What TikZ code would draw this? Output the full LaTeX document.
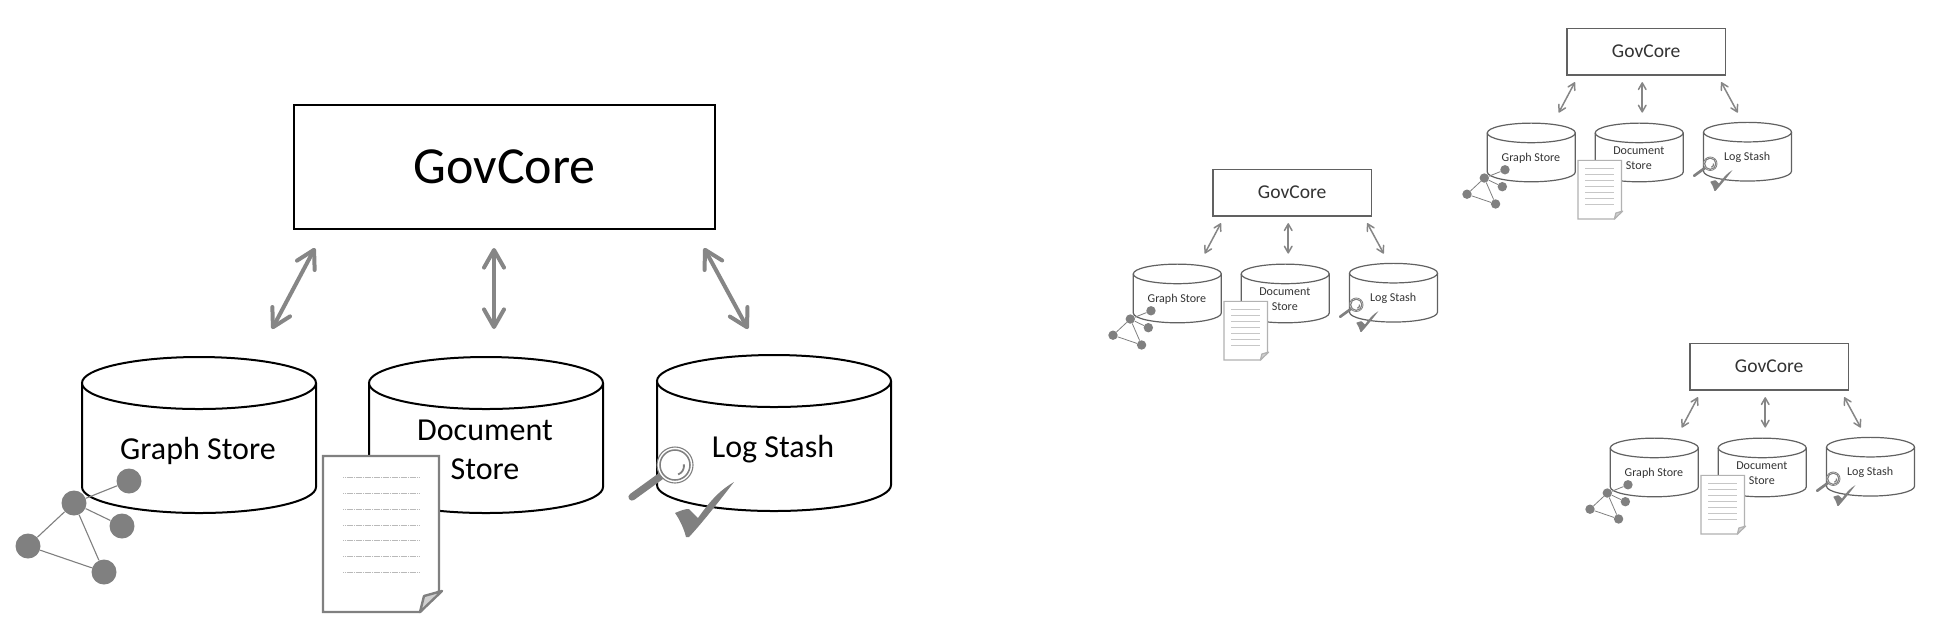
\documentclass[tikz,border=0pt]{standalone}
\usepackage{fontspec}
\setmainfont{Carlito}
\usetikzlibrary{arrows.meta,calc}
\definecolor{nodegray}{HTML}{808080}
\definecolor{foldgray}{HTML}{D0D0D0}
\tikzset{
  ink/.style={draw=inkc,line width=\inkw pt},
  cyl/.style={ink,fill=white},
  txt/.style={transform shape,text=inkt,align=center,inner sep=0pt,font=\fontsize{16pt}{20pt}\selectfont},
  core/.style={transform shape,draw=inkc,line width=\inkw pt,fill=white,minimum width=210.5pt,minimum height=62pt,inner sep=0pt,text=inkt,font=\fontsize{26pt}{30pt}\selectfont},
  barb/.tip={Straight Barb[round,length=0pt 4.4 0,width=0pt 5 0]},
  link/.style={draw=nodegray!95,line width=\arrw pt,barb-barb},
  dot/.style={transform shape,circle,fill=nodegray,draw=none,minimum size=12.5pt,inner sep=0pt},
  edge/.style={draw=nodegray,line width=\edgew pt},
  sheet/.style={draw=sheetc,line width=\sheetw pt,fill=white,line join=miter},
  rule/.style={draw=nodegray!55,line width=.5pt,dash pattern=on .7pt off .2pt},
  lens/.style={draw=nodegray,line width=\edgew pt}
}
% #1 prefix, #2 x, #3 y, #4 scale, #5 ink stroke width, #6 arrow width, #7 thin width, #8 sheet width
\newcommand{\govgroup}[8]{%
\def\inkw{#5}\def\arrw{#6}\def\edgew{#7}\def\sheetw{#8}%
\begin{scope}[shift={(#2,#3)},scale=#4,shift={(-294,-104)}]
  \node[core] (#1core) at (504.5,167) {GovCore};
  % arrows
  \coordinate (#1a1) at (315,248); \coordinate (#1b1) at (272,329);
  \coordinate (#1a2) at (494,248); \coordinate (#1b2) at (494,329);
  \coordinate (#1a3) at (704,248); \coordinate (#1b3) at (748,329);
  \draw[link] (#1a1) -- (#1b1);
  \draw[link] (#1a2) -- (#1b2);
  \draw[link] (#1a3) -- (#1b3);
  % cylinders
  \foreach \cx/\cy in {199/383,486/383,774/381}{
    \path[cyl] (\cx-117,\cy) -- (\cx-117,\cy+104) arc[start angle=180,end angle=0,x radius=117,y radius=26] -- (\cx+117,\cy);
    \path[cyl] (\cx,\cy) ellipse[x radius=117,y radius=26];
  }
  \node[txt] (#1gs) at (198,451) {Graph Store};
  \node[txt] (#1ds) at (485,449.5) {Document\\[-.4pt]Store};
  \node[txt] (#1ls) at (773,449) {Log Stash};
  % graph
  \node[dot] (#1n1) at (129,481) {};
  \node[dot] (#1n2) at (74,503) {};
  \node[dot] (#1n3) at (122,526) {};
  \node[dot] (#1n4) at (28,546) {};
  \node[dot] (#1n5) at (104,572) {};
  \draw[edge] (#1n2)--(#1n1) (#1n2)--(#1n3) (#1n2)--(#1n4) (#1n2)--(#1n5) (#1n4)--(#1n5);
  % sheet
  \path[sheet] (323,456) -- (439,456) -- (439,591) -- (420,612) -- (323,612) -- cycle;
  \path[draw=sheetc,line width=\sheetw pt,fill=foldgray,line join=round] (420,612) -- (424,596) -- (442,591) -- cycle;
  \foreach \ly in {477,493,509,525,540,556,572}{\path[rule] (343,\ly) -- (420,\ly);}
  % magnifier
  \draw[nodegray,line width=\arrw pt*1.8,line cap=round] (661,476) -- (632,497);
  \path[lens,fill=white] (675,465) circle[radius=18];
  \path[lens,line width=\edgew pt*1.4] (675,465) circle[radius=15];
  \path[lens,line width=\edgew pt*1.6] (675,466) ++(-10:9) arc[start angle=-10,end angle=70,radius=9];
  % check
  \fill[nodegray] (675,513) .. controls (682,510) and (685,509) .. (689,509) -- (698,518) .. controls (712,498) and (722,489) .. (734,482) .. controls (720,500) and (703,522) .. (689,537) -- (686,537) .. controls (684,529) and (680,520) .. (675,513) -- cycle;
\end{scope}}
\begin{document}
\begin{tikzpicture}[x=.5pt,y=-.5pt]
\useasboundingbox (0,0) rectangle (1946,639);
\fill[white] (0,0) rectangle (1946,639);
\colorlet{inkc}{black}\colorlet{inkt}{black}\colorlet{sheetc}{nodegray}
\govgroup{a}{294}{104}{1}{1}{2}{.55}{1.2}
\colorlet{inkc}{black!62}\colorlet{inkt}{black!80}\colorlet{sheetc}{black!30}
\tikzset{rule/.style={draw=black!22,line width=.45pt}}
\govgroup{b}{1213}{169}{.376}{.6}{.75}{.4}{.6}
\govgroup{c}{1567}{28}{.376}{.6}{.75}{.4}{.6}
\govgroup{d}{1690}{343}{.376}{.6}{.75}{.4}{.6}
\end{tikzpicture}
\end{document}
